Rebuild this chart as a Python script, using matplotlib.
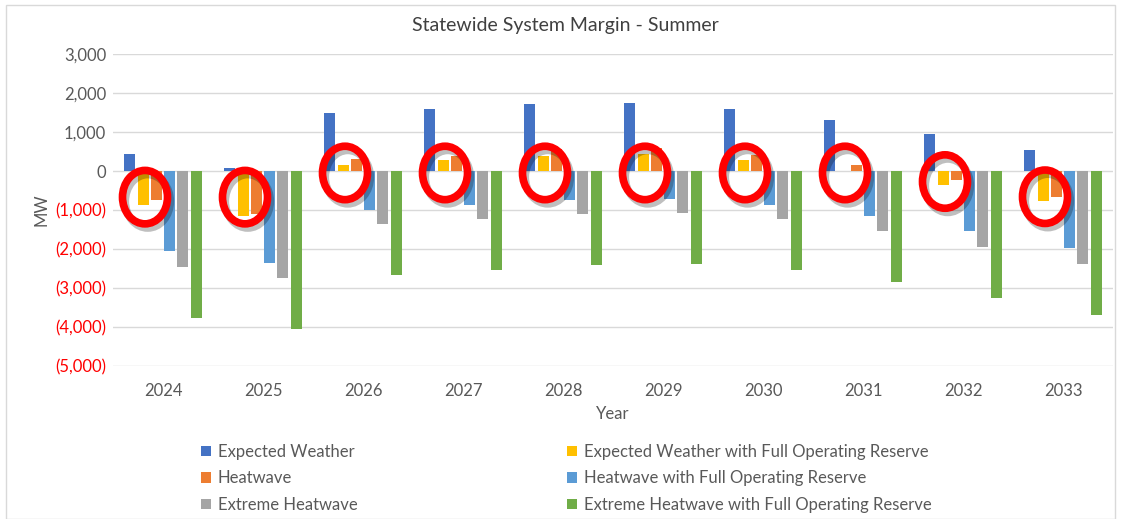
import matplotlib
matplotlib.use('Agg')
import matplotlib.pyplot as plt
import matplotlib.patheffects as pe
from matplotlib.patches import Ellipse, Rectangle
import numpy as np

plt.rcParams['font.family'] = ['Lato', 'DejaVu Sans']

years = ['2024', '2025', '2026', '2027', '2028', '2029', '2030', '2031', '2032', '2033']

expected = [430, 85, 1480, 1580, 1710, 1735, 1580, 1315, 940, 530]
expected_for = [-880, -1150, 160, 275, 385, 425, 280, 10, -360, -780]
heatwave = [-740, -1090, 315, 385, 555, 590, 410, 145, -230, -660]
heatwave_for = [-2050, -2370, -1000, -870, -745, -720, -865, -1155, -1545, -1985]
extreme = [-2450, -2750, -1360, -1240, -1105, -1080, -1240, -1540, -1940, -2385]
extreme_for = [-3760, -4060, -2665, -2545, -2410, -2385, -2545, -2845, -3255, -3700]

series = [
    ('Expected Weather', expected, '#4472C4'),
    ('Expected Weather with Full Operating Reserve', expected_for, '#FFC000'),
    ('Heatwave', heatwave, '#ED7D31'),
    ('Heatwave with Full Operating Reserve', heatwave_for, '#5B9BD5'),
    ('Extreme Heatwave', extreme, '#A5A5A5'),
    ('Extreme Heatwave with Full Operating Reserve', extreme_for, '#70AD47'),
]

# red circles drawn over the chart (centre value in MW)
circle_y = [-670, -670, -50, -50, -50, -50, -50, -50, -270, -660]

yticks = [3000, 2000, 1000, 0, -1000, -2000, -3000, -4000, -5000]


def fmt(v):
    if v < 0:
        return '({:,})'.format(-v)
    return '{:,}'.format(v)


def main():
    fig = plt.figure(figsize=(11.21, 5.19), dpi=100)
    ax = fig.add_axes([113 / 1121, 153 / 519, 1000 / 1121, 312 / 519])

    x = np.arange(len(years))
    step = 0.133
    width = 0.11
    handles = []
    for i, (name, vals, col) in enumerate(series):
        b = ax.bar(x + (i - 2.5) * step, vals, width, color=col, label=name, zorder=3)
        handles.append(b)

    for xi, cy in zip(x, circle_y):
        e = Ellipse((xi - 0.18, cy), 0.45, 1370, fill=False, edgecolor='#FF0000',
                    linewidth=5.5, zorder=5,
                    path_effects=[pe.SimpleLineShadow(offset=(2, -3), shadow_color='#000000', alpha=0.25),
                                  pe.Normal()])
        ax.add_patch(e)

    ax.set_xlim(-0.5, len(years) - 0.5)
    ax.set_ylim(-5000, 3000)
    ax.set_yticks(yticks)
    ax.set_yticklabels([fmt(v) for v in yticks])
    for lab, v in zip(ax.get_yticklabels(), yticks):
        lab.set_color('#FF0000' if v < 0 else '#595959')
    ax.set_xticks(x)
    ax.set_xticklabels(years, color='#595959')
    ax.tick_params(length=0, labelsize=12)
    ax.tick_params(axis='x', pad=12)
    ax.tick_params(axis='y', pad=5)
    ax.grid(axis='y', color='#D9D9D9', linewidth=1, zorder=0)
    for s in ax.spines.values():
        s.set_visible(False)

    ax.set_ylabel('MW', color='#595959', fontsize=12, labelpad=4)
    ax.set_xlabel('Year', color='#595959', fontsize=12, labelpad=5)
    fig.text(565 / 1121, 1 - 25 / 519, 'Statewide System Margin - Summer', color='#404040',
             fontsize=14, ha='center', va='center')

    order = [0, 2, 4, 1, 3, 5]
    fig.legend([handles[i] for i in order], [series[i][0] for i in order],
               ncol=2, loc='upper left', bbox_to_anchor=(186 / 1121, 1 - 429 / 519),
               frameon=False, fontsize=12, labelcolor='#595959',
               handlelength=0.6, handleheight=0.6, handletextpad=0.4,
               columnspacing=12.6, labelspacing=0.62)

    fig.patches.append(Rectangle((6 / 1121, 0), 1 - 12 / 1121, 1 - 5 / 519,
                                 transform=fig.transFigure, fill=False,
                                 edgecolor='#D9D9D9', linewidth=1))

    fig.savefig('out.png', dpi=100)


if __name__ == '__main__':
    main()
